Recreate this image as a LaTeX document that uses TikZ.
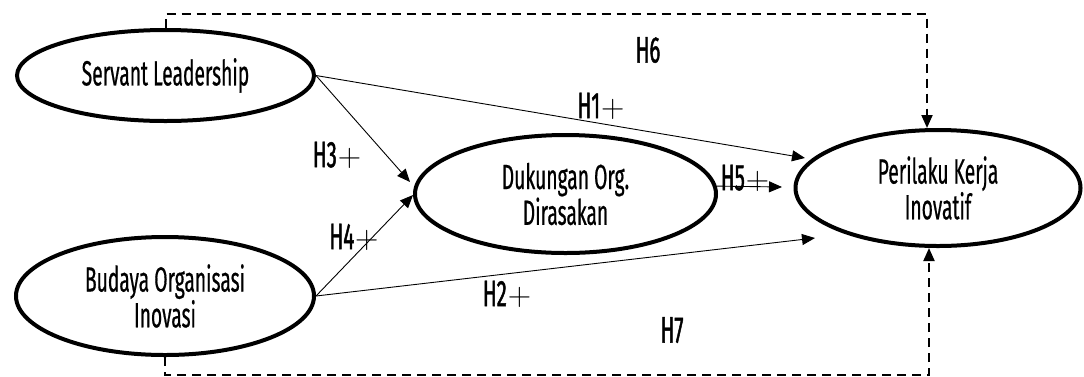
\documentclass[tikz,border=0pt]{standalone}
\usepackage{graphicx}
\usepackage{fontspec}
\setmainfont{Fira Sans}[FakeStretch=0.55,FakeBold=0.5]
\newfontfamily\labfont{Fira Sans}[FakeStretch=0.55,FakeBold=1.2]
\usetikzlibrary{arrows.meta,shapes.geometric}
\newcommand{\pls}{\kern1pt\raisebox{1pt}{\scalebox{1.3}{$+$}}}
\begin{document}
\begin{tikzpicture}[x=1pt,y=-1pt,
  var/.style={ellipse, draw, line width=4pt, align=center, inner sep=0pt,
     font=\fontsize{35}{30}\selectfont},
  path/.style={line width=0.9pt, -{Triangle[length=13pt,width=11pt]}},
  hyp/.style={line width=2pt, dash pattern=on 9pt off 6pt, -{Triangle[length=13pt,width=11pt]}},
  lab/.style={font=\labfont\fontsize{37}{40}\selectfont, inner sep=0pt}]
\useasboundingbox (0,0) rectangle (1084,376);
\node[var, minimum width=297pt, minimum height=91pt] (sl) at (165.5,75.5) {Servant Leadership};
\node[var, minimum width=298pt, minimum height=118pt] (bo) at (165,296) {Budaya Organisasi\\Inovasi};
\node[var, minimum width=301pt, minimum height=118pt] (dk) at (565.5,194) {Dukungan Org.\\Dirasakan};
\node[var, minimum width=285pt, minimum height=116pt] (pk) at (938,188) {Perilaku Kerja\\Inovatif};
\coordinate (h1end) at (805,158);
\coordinate (h2end) at (815,238);
\coordinate (h3end) at (410,182);
\coordinate (h4end) at (413,195);
\coordinate (h5end) at (782,187);
\coordinate (h6top) at (927,14);
\coordinate (h7bot) at (929,375);
\draw[path] (sl.east) -- (h1end);
\draw[path] (sl.east) -- (h3end);
\draw[path] (bo.east) -- (h2end);
\draw[path] (bo.east) -- (h4end);
\draw[path] (dk.3) -- (h5end);
\draw[hyp] (sl.north) |- (h6top) -- (pk.north -| h6top);
\draw[hyp] (bo.south) |- (h7bot) -- (pk.south -| h7bot);
\node[lab] (l6) at (648,50) {H6};
\node[lab] (l1) at (601,106) {H1\pls};
\node[lab] (l3) at (337,155) {H3\pls};
\node[lab] (l4) at (354,237) {H4\pls};
\node[lab] (l2) at (507,294) {H2\pls};
\node[lab] (l5) at (745,178) {H5\pls};
\node[lab] (l7) at (672,330) {H7};
\end{tikzpicture}
\end{document}
